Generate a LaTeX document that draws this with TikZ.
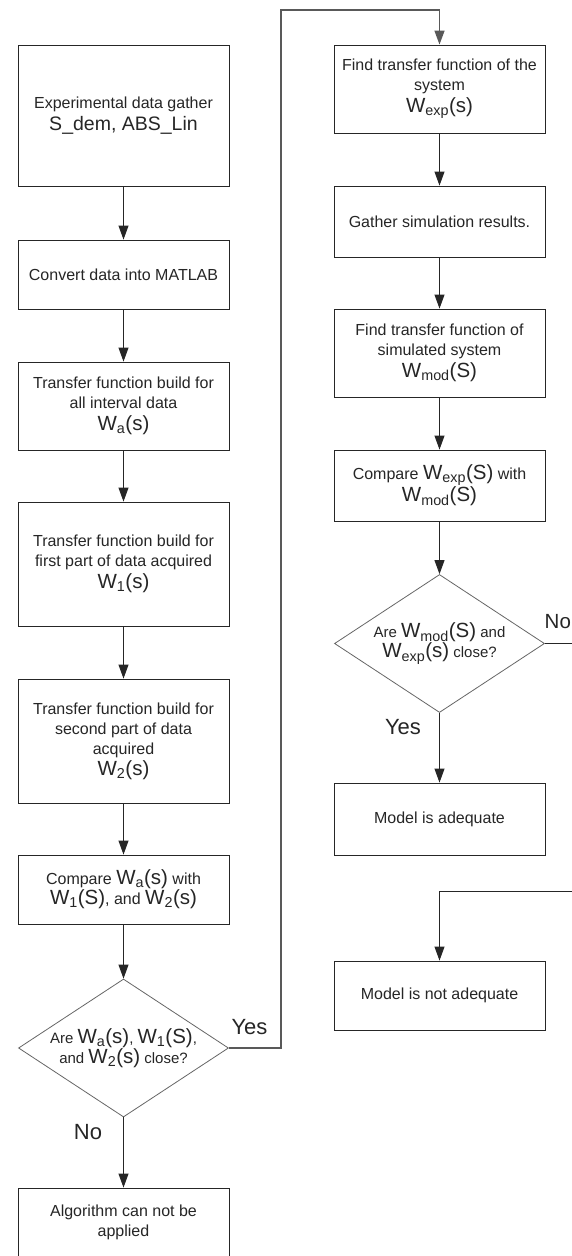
\documentclass[tikz,border=0pt]{standalone}
\usepackage{fontspec}
\setmainfont{Liberation Sans}
\usetikzlibrary{shapes.geometric,arrows.meta}
\newcommand{\Wv}[2]{{\fontsize{20.5}{20}\selectfont W\textsubscript{#1}(#2)}}
\begin{document}
\begin{tikzpicture}[x=1pt,y=-1pt,
  box/.style={draw=black!85, line width=0.9pt, minimum width=211pt, inner sep=0pt,
    align=center, font=\fontsize{16}{20}\selectfont, text=black!85},
  dec/.style={diamond, draw=black!60, line width=0.8pt, aspect=1.52,
    minimum width=210pt, minimum height=138pt, inner sep=0pt, align=center,
    font=\fontsize{15}{20}\selectfont, text=black!85},
  arr/.style={-{Triangle[length=14pt,width=10pt]}, line width=0.9pt, draw=black!85},
  longline/.style={arr, line width=1.4pt, draw=black!65},
  lbl/.style={font=\fontsize{22}{22}\selectfont, text=black!85, inner sep=0pt}]
\useasboundingbox (0,0) rectangle (572,1256);
\fill[white] (0,0) rectangle (572,1256);
\clip (0,0) rectangle (572,1256);

% left column
\node[box, minimum height=141pt] (l1) at (123.5,115.5)
  {Experimental data gather\\[2pt]{\fontsize{19.5}{20}\selectfont S\_dem, ABS\_Lin}};
\node[box, minimum height=69pt] (l2) at (123.5,274.5) {Convert data into MATLAB};
\node[box, minimum height=88pt] (l3) at (123.5,406)
  {Transfer function build for\\all interval data\\[2pt]\Wv{a}{s}};
\node[box, minimum height=124pt] (l4) at (123.5,564)
  {Transfer function build for\\first part of data acquired\\[2pt]\Wv{1}{s}};
\node[box, minimum height=124pt] (l5) at (123.5,741)
  {Transfer function build for\\second part of data\\acquired\\[1pt]\Wv{2}{s}};
\node[box, minimum height=69pt] (l6) at (123.5,889.5)
  {Compare \Wv{a}{s} with\\\Wv{1}{S}, and \Wv{2}{s}};
\node[dec] (d1) at (123.5,1048)
  {Are \Wv{a}{s}, \Wv{1}{S},\\and \Wv{2}{s} close?};
\node[box, minimum height=69pt] (l7) at (123.5,1222.5)
  {Algorithm can not be\\applied};

% right column
\node[box, minimum height=88pt] (r1) at (439.5,89)
  {Find transfer function of the\\system\\[2pt]\Wv{exp}{s}};
\node[box, minimum height=71pt] (r2) at (439.5,221.5) {Gather simulation results.};
\node[box, minimum height=88pt] (r3) at (439.5,353)
  {Find transfer function of\\simulated system\\[2pt]\Wv{mod}{S}};
\node[box, minimum height=71pt] (r4) at (439.5,485.5)
  {Compare \Wv{exp}{S} with\\\Wv{mod}{S}};
\node[dec] (d2) at (439.5,643.5)
  {Are \Wv{mod}{S} and\\\Wv{exp}{s} close?};
\node[box, minimum height=72pt] (r5) at (439.5,819) {Model is adequate};
\node[box, minimum height=69pt] (r6) at (439.5,995.5) {Model is not adequate};

% labels
\node[lbl] (yes1) at (249.5,1027) {Yes};
\node[lbl] (no1) at (88,1132) {No};
\node[lbl, anchor=west, font=\fontsize{20.5}{21}\selectfont] (no2) at (544.5,622) {No};
\node[lbl] (yes2) at (403,727) {Yes};

% connectors
\draw[arr] (l1) -- (l2);
\draw[arr] (l2) -- (l3);
\draw[arr] (l3) -- (l4);
\draw[arr] (l4) -- (l5);
\draw[arr] (l5) -- (l6);
\draw[arr] (l6) -- (d1);
\draw[arr] (d1) -- (l7);
\draw[arr] (r1) -- (r2);
\draw[arr] (r2) -- (r3);
\draw[arr] (r3) -- (r4);
\draw[arr] (r4) -- (d2);
\draw[arr] (d2) -- (r5);

\coordinate (yt) at (281,10);
\draw[longline] (d1.east) -| (yt) -| (r1.north);
\coordinate (nr) at (600,891);
\draw[arr] (d2.east) -| (nr) -| (r6.north);
\end{tikzpicture}
\end{document}
